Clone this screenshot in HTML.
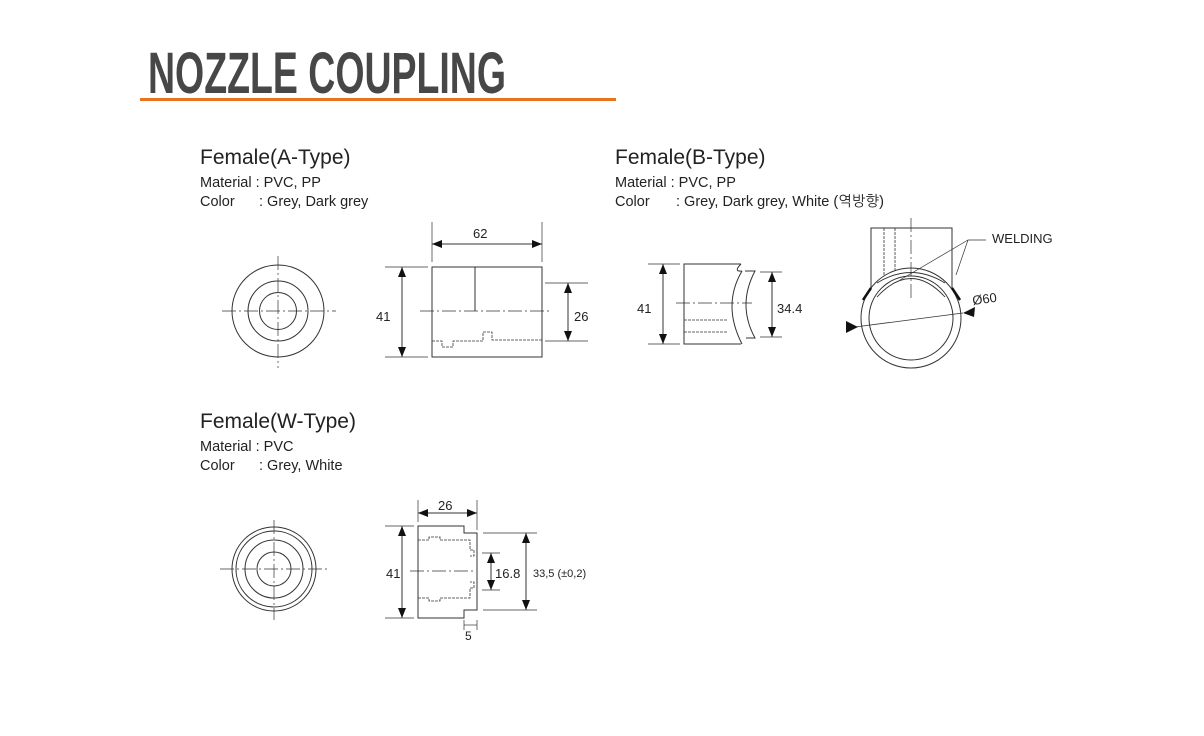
<!DOCTYPE html>
<html><head><meta charset="utf-8"><style>
body{margin:0;background:#fff;}
svg{display:block;}
text{font-family:"Liberation Sans","NanumGothic",sans-serif;fill:#222;}
</style></head><body>
<svg width="1204" height="736" viewBox="0 0 1204 736" xmlns="http://www.w3.org/2000/svg">
<defs>
<marker id="a" markerWidth="10" markerHeight="8" refX="10" refY="4" orient="auto-start-reverse" markerUnits="userSpaceOnUse"><path d="M0,0 L10,4 L0,8z" fill="#111"/></marker>
</defs>
<text x="148" y="93" font-family="Liberation Sans Narrow, Liberation Sans, sans-serif" font-weight="bold" font-size="58" fill="#474747" textLength="358" lengthAdjust="spacingAndGlyphs" style="fill:#474747">NOZZLE COUPLING</text>
<rect x="140" y="98" width="476" height="3" fill="#e8731f"/>

<g font-size="21"><text x="200" y="164">Female(A-Type)</text><text x="615" y="164">Female(B-Type)</text><text x="200" y="428">Female(W-Type)</text></g>
<g font-size="14.5">
<text x="200" y="187">Material : PVC, PP</text><text x="200" y="206">Color</text><text x="259" y="206">: Grey, Dark grey</text>
<text x="615" y="187">Material : PVC, PP</text><text x="615" y="206">Color</text><text x="676" y="206">: Grey, Dark grey, White (역방향)</text>
<text x="200" y="451">Material : PVC</text><text x="200" y="470">Color</text><text x="259" y="470">: Grey, White</text>
</g>

<g fill="none" stroke="#333" stroke-width="1">
<!-- A front -->
<circle cx="278" cy="311" r="46"/><circle cx="278" cy="311" r="30"/><circle cx="278" cy="311" r="18.5"/>
<path d="M222 311H336M278 256V368" stroke-dasharray="14 3 2 3" stroke-width="0.7"/>
<!-- A side -->
<rect x="432" y="267" width="110" height="90"/>
<path d="M475 267V311"/>
<path d="M420 311H552" stroke-dasharray="14 3 2 3" stroke-width="0.7"/>
<path d="M432 341H442V347H453V341H483V332H492V340H542" stroke-dasharray="3 1" stroke-width="0.8"/>
<path d="M432 222V262M542 222V262M385 267H428M385 357H428M545 283H588M545 341H588" stroke-width="0.7"/>
<path d="M432 244H542" marker-start="url(#a)" marker-end="url(#a)"/>
<path d="M402 267V357" marker-start="url(#a)" marker-end="url(#a)"/>
<path d="M568 283V341" marker-start="url(#a)" marker-end="url(#a)"/>

<!-- B side -->
<path d="M741 264H684V344H741"/>
<path d="M741 264Q733 272 742 271"/>
<path d="M742 271Q722 305 742 344"/>
<path d="M745 271H755Q737 305 755 338H746"/>
<path d="M684 320H728M684 332H728" stroke-dasharray="3 1" stroke-width="0.8"/>
<path d="M676 303H752" stroke-dasharray="14 3 2 3" stroke-width="0.7"/>
<path d="M648 264H680M648 344H680M760 272H782M760 337H782" stroke-width="0.7"/>
<path d="M663 264V344" marker-start="url(#a)" marker-end="url(#a)"/>
<path d="M772 272V337" marker-start="url(#a)" marker-end="url(#a)"/>

<!-- B weld -->
<path d="M871 288V228H952V288"/>
<path d="M884 228V275M895 228V272" stroke-dasharray="3 1" stroke-width="0.8"/>
<path d="M911 218V300" stroke-dasharray="14 3 2 3" stroke-width="0.7"/>
<circle cx="911" cy="318" r="50"/><circle cx="911" cy="318" r="42"/>
<path d="M877 297Q911 260 945 297M877 283Q911 262 945 283" stroke-width="0.9"/>
<path d="M871 288L863 300M952 288L960 300" stroke-width="2.5" stroke="#111"/>
<path d="M986 240H968L956 275M968 240L900 280" stroke-width="0.7"/>
<path d="M855 327L963 313" stroke-width="0.8"/>
<path d="M846 321L858 327L846 333z" fill="#111" stroke="none"/>
<path d="M975 307L963 313L974 317z" fill="#111" stroke="none"/>

<!-- W front -->
<circle cx="274" cy="569" r="42"/><circle cx="274" cy="569" r="38"/><circle cx="274" cy="569" r="29"/><circle cx="274" cy="569" r="17"/>
<path d="M220 569H330M274 520V620" stroke-dasharray="14 3 2 3" stroke-width="0.7"/>
<!-- W side -->
<path d="M418 526H464V533H477V610H464V618H418Z"/>
<path d="M418 540H429V537H440V540H470V550H474V556H470M418 598H429V601H440V598H470V588H474V582H470" stroke-dasharray="3 1" stroke-width="0.8"/>
<path d="M410 571H475" stroke-dasharray="14 3 2 3" stroke-width="0.7"/>
<path d="M418 500V522M477 500V530M385 526H414M385 618H414M482 553H500M482 590H500M483 533H537M483 610H537M464 620V630M477 620V630" stroke-width="0.7"/>
<path d="M418 513H477" marker-start="url(#a)" marker-end="url(#a)"/>
<path d="M402 526V618" marker-start="url(#a)" marker-end="url(#a)"/>
<path d="M491 553V590" marker-start="url(#a)" marker-end="url(#a)"/>
<path d="M526 533V610" marker-start="url(#a)" marker-end="url(#a)"/>
<path d="M464 625H477" stroke-width="0.7"/>
</g>
<g font-size="13">
<text x="473" y="238">62</text><text x="376" y="321">41</text><text x="574" y="321">26</text>
<text x="637" y="313">41</text><text x="777" y="313">34.4</text>
<text x="992" y="243">WELDING</text><text x="973" y="305" transform="rotate(-8 973 305)">Ø60</text>
<text x="438" y="510">26</text><text x="386" y="578">41</text><text x="495" y="578">16.8</text>
<text x="533" y="577" font-size="11">33,5 (±0,2)</text><text x="465" y="640" font-size="12">5</text>
</g>
</svg>
</body></html>
